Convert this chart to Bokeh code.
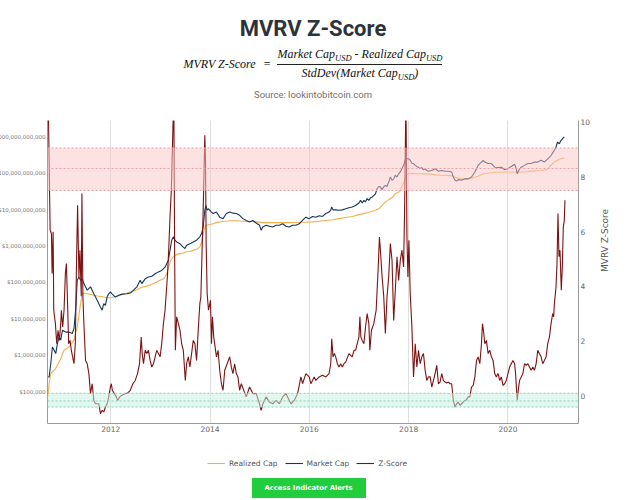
import math
from bokeh.plotting import figure
from bokeh.models import (Range1d, LogScale, LogAxis, FixedTicker, BoxAnnotation, Span,
                          Legend, LegendItem, Div, NumeralTickFormatter)
from bokeh.layouts import column
from bokeh.embed import file_html
from bokeh.resources import INLINE

# ---------------- data ----------------
# Market cap, log10 of USD
mc_year = [
    2010.73, 2010.76, 2010.793, 2010.826, 2010.86, 2010.893, 2010.926, 2010.96, 2010.993, 2011.027,
    2011.093, 2011.16, 2011.226, 2011.26, 2011.293, 2011.326, 2011.36, 2011.393, 2011.427, 2011.46,
    2011.527, 2011.593, 2011.66, 2011.727, 2011.793, 2011.827, 2011.86, 2011.893, 2011.927, 2011.96,
    2011.993, 2012.027, 2012.094, 2012.16, 2012.227, 2012.327, 2012.394, 2012.46, 2012.527, 2012.593,
    2012.627, 2012.694, 2012.76, 2012.827, 2012.894, 2012.961, 2013.027, 2013.094, 2013.161, 2013.194,
    2013.228, 2013.262, 2013.295, 2013.328, 2013.395, 2013.462, 2013.495, 2013.528, 2013.595, 2013.662,
    2013.729, 2013.795, 2013.829, 2013.862, 2013.895, 2013.915, 2013.942, 2013.962, 2013.995, 2014.029,
    2014.062, 2014.129, 2014.195, 2014.262, 2014.329, 2014.396, 2014.462, 2014.529, 2014.596, 2014.662,
    2014.729, 2014.796, 2014.862, 2014.929, 2014.996, 2015.029, 2015.062, 2015.129, 2015.195, 2015.262,
    2015.329, 2015.396, 2015.462, 2015.529, 2015.596, 2015.663, 2015.729, 2015.796, 2015.862, 2015.929,
    2015.997, 2016.064, 2016.131, 2016.197, 2016.264, 2016.331, 2016.397, 2016.431, 2016.451, 2016.477,
    2016.531, 2016.597, 2016.664, 2016.731, 2016.797, 2016.864, 2016.931, 2016.998, 2017.031, 2017.064,
    2017.098, 2017.131, 2017.164, 2017.198, 2017.231, 2017.264, 2017.331, 2017.364, 2017.398, 2017.431,
    2017.464, 2017.498, 2017.531, 2017.564, 2017.598, 2017.631, 2017.664, 2017.698, 2017.731, 2017.764,
    2017.798, 2017.831, 2017.864, 2017.898, 2017.931, 2017.964, 2017.998, 2018.031, 2018.064, 2018.098,
    2018.131, 2018.165, 2018.198, 2018.231, 2018.265, 2018.298, 2018.331, 2018.365, 2018.398, 2018.466,
    2018.532, 2018.599, 2018.666, 2018.732, 2018.799, 2018.866, 2018.899, 2018.933, 2018.966, 2018.999,
    2019.066, 2019.133, 2019.199, 2019.266, 2019.333, 2019.366, 2019.399, 2019.433, 2019.466, 2019.499,
    2019.533, 2019.599, 2019.666, 2019.733, 2019.80, 2019.866, 2019.933, 2019.999, 2020.066, 2020.133,
    2020.166, 2020.186, 2020.213, 2020.266, 2020.333, 2020.399, 2020.466, 2020.533, 2020.60, 2020.666,
    2020.733, 2020.80, 2020.866, 2020.933, 2020.966, 2020.999, 2021.033, 2021.066, 2021.099, 2021.133,
]
mc_log10 = [
    5.41, 5.41, 5.78, 6.23, 6.14, 6.05, 6.32, 6.51, 6.42, 6.69,
    6.64, 6.64, 6.60, 6.74, 7.24, 8.06, 8.15, 8.06, 8.10, 7.97,
    7.79, 7.88, 7.69, 7.51, 7.33, 7.24, 7.42, 7.37, 7.60, 7.69,
    7.74, 7.69, 7.60, 7.65, 7.68, 7.69, 7.71, 7.79, 7.88, 8.06,
    7.97, 8.10, 8.15, 8.17, 8.24, 8.29, 8.33, 8.42, 8.61, 8.88,
    9.16, 9.25, 9.16, 9.11, 9.06, 8.97, 8.93, 9.02, 9.06, 9.11,
    9.16, 9.25, 9.34, 9.52, 9.98, 10.11, 9.98, 10.02, 9.98, 9.93,
    9.89, 9.93, 9.79, 9.75, 9.89, 9.93, 9.90, 9.89, 9.84, 9.75,
    9.70, 9.66, 9.70, 9.63, 9.57, 9.43, 9.52, 9.57, 9.54, 9.52,
    9.57, 9.57, 9.61, 9.54, 9.52, 9.57, 9.57, 9.61, 9.70, 9.79,
    9.75, 9.81, 9.79, 9.83, 9.81, 9.89, 9.93, 9.98, 10.07, 9.99,
    9.99, 9.98, 9.99, 10.02, 10.05, 10.07, 10.11, 10.18, 10.25, 10.18,
    10.25, 10.21, 10.30, 10.25, 10.32, 10.34, 10.43, 10.57, 10.63, 10.62,
    10.54, 10.62, 10.66, 10.63, 10.75, 10.89, 10.80, 10.84, 10.94, 10.89,
    10.98, 11.03, 11.12, 11.21, 11.35, 11.39, 11.39, 11.35, 11.27, 11.26,
    11.21, 11.18, 11.16, 11.12, 11.15, 11.09, 11.12, 11.07, 11.05, 11.07,
    11.12, 11.05, 11.07, 11.05, 11.05, 11.03, 10.89, 10.80, 10.78, 10.82,
    10.80, 10.84, 10.84, 10.89, 11.03, 11.12, 11.21, 11.26, 11.30, 11.35,
    11.30, 11.26, 11.26, 11.16, 11.15, 11.16, 11.09, 11.12, 11.18, 11.24,
    11.12, 10.98, 11.07, 11.16, 11.21, 11.26, 11.26, 11.30, 11.30, 11.35,
    11.30, 11.39, 11.48, 11.62, 11.71, 11.85, 11.80, 11.89, 11.94, 11.99,
]

# Realized cap, log10 of USD
rc_year = [
    2010.733, 2010.76, 2010.793, 2010.893, 2010.993, 2011.06, 2011.16, 2011.26, 2011.326, 2011.393,
    2011.427, 2011.46, 2011.527, 2011.593, 2011.66, 2011.727, 2011.793, 2011.86, 2011.927, 2011.993,
    2012.06, 2012.127, 2012.193, 2012.26, 2012.327, 2012.394, 2012.46, 2012.527, 2012.593, 2012.66,
    2012.727, 2012.794, 2012.861, 2012.927, 2012.994, 2013.061, 2013.094, 2013.127, 2013.161, 2013.194,
    2013.228, 2013.261, 2013.328, 2013.395, 2013.462, 2013.528, 2013.595, 2013.662, 2013.729, 2013.795,
    2013.829, 2013.862, 2013.895, 2013.929, 2013.995, 2014.062, 2014.129, 2014.195, 2014.262, 2014.329,
    2014.396, 2014.529, 2014.662, 2014.796, 2014.929, 2015.062, 2015.329, 2015.596, 2015.862, 2016.064,
    2016.197, 2016.331, 2016.464, 2016.597, 2016.731, 2016.864, 2016.998, 2017.131, 2017.264, 2017.331,
    2017.398, 2017.464, 2017.531, 2017.598, 2017.664, 2017.731, 2017.798, 2017.831, 2017.864, 2017.898,
    2017.918, 2017.945, 2017.964, 2017.998, 2018.198, 2018.465, 2018.532, 2018.666, 2018.799, 2018.866,
    2018.933, 2018.999, 2019.066, 2019.199, 2019.266, 2019.333, 2019.399, 2019.466, 2019.599, 2019.733,
    2019.999, 2020.20, 2020.399, 2020.533, 2020.666, 2020.766, 2020.80, 2020.866, 2020.933, 2020.999,
    2021.066, 2021.133,
]
rc_log10 = [
    4.86, 5.23, 5.50, 5.64, 5.91, 6.14, 6.23, 6.42, 6.78, 7.42,
    7.69, 7.71, 7.69, 7.67, 7.65, 7.63, 7.62, 7.60, 7.58, 7.58,
    7.60, 7.62, 7.65, 7.68, 7.71, 7.74, 7.77, 7.80, 7.85, 7.88,
    7.90, 7.93, 7.97, 8.01, 8.06, 8.10, 8.15, 8.24, 8.38, 8.56,
    8.65, 8.70, 8.77, 8.79, 8.81, 8.84, 8.85, 8.88, 8.91, 8.97,
    9.11, 9.34, 9.52, 9.57, 9.59, 9.61, 9.64, 9.66, 9.68, 9.68,
    9.69, 9.69, 9.68, 9.68, 9.66, 9.64, 9.64, 9.64, 9.65, 9.66,
    9.68, 9.70, 9.72, 9.75, 9.78, 9.81, 9.86, 9.90, 9.95, 9.98,
    10.02, 10.11, 10.21, 10.27, 10.32, 10.43, 10.48, 10.54, 10.63, 10.73,
    10.80, 10.91, 10.96, 10.98, 10.98, 10.97, 10.95, 10.94, 10.93, 10.93,
    10.89, 10.86, 10.84, 10.84, 10.86, 10.89, 10.91, 10.96, 11.00, 11.02,
    11.03, 11.02, 11.04, 11.06, 11.07, 11.09, 11.12, 11.21, 11.30, 11.35,
    11.39, 11.41,
]

# MVRV Z-Score
z_year = [
    2010.74, 2010.78, 2010.806, 2010.82, 2010.84, 2010.853, 2010.886, 2010.913, 2010.94, 2010.967,
    2010.993, 2011.007, 2011.033, 2011.06, 2011.087, 2011.107, 2011.127, 2011.153, 2011.18, 2011.207,
    2011.233, 2011.26, 2011.287, 2011.313, 2011.333, 2011.36, 2011.38, 2011.407, 2011.42, 2011.44,
    2011.46, 2011.493, 2011.527, 2011.56, 2011.593, 2011.627, 2011.66, 2011.693, 2011.76, 2011.793,
    2011.827, 2011.86, 2011.893, 2011.927, 2011.96, 2011.993, 2012.013, 2012.033, 2012.073, 2012.113,
    2012.14, 2012.18, 2012.227, 2012.294, 2012.34, 2012.394, 2012.447, 2012.494, 2012.54, 2012.58,
    2012.614, 2012.634, 2012.66, 2012.694, 2012.727, 2012.76, 2012.794, 2012.827, 2012.861, 2012.894,
    2012.927, 2012.961, 2012.994, 2013.027, 2013.061, 2013.094, 2013.114, 2013.141, 2013.168, 2013.194,
    2013.221, 2013.241, 2013.27, 2013.288, 2013.302, 2013.328, 2013.362, 2013.395, 2013.428, 2013.462,
    2013.502, 2013.528, 2013.562, 2013.595, 2013.662, 2013.695, 2013.729, 2013.762, 2013.795, 2013.815,
    2013.835, 2013.862, 2013.895, 2013.909, 2013.922, 2013.942, 2013.969, 2014.009, 2014.029, 2014.049,
    2014.075, 2014.129, 2014.162, 2014.195, 2014.229, 2014.262, 2014.296, 2014.396, 2014.429, 2014.462,
    2014.496, 2014.529, 2014.562, 2014.596, 2014.629, 2014.729, 2014.796, 2014.863, 2014.929, 2014.996,
    2015.029, 2015.063, 2015.129, 2015.196, 2015.263, 2015.329, 2015.396, 2015.463, 2015.529, 2015.596,
    2015.63, 2015.696, 2015.763, 2015.83, 2015.863, 2015.93, 2015.997, 2016.03, 2016.064, 2016.097,
    2016.131, 2016.197, 2016.264, 2016.331, 2016.397, 2016.431, 2016.451, 2016.477, 2016.504, 2016.531,
    2016.564, 2016.597, 2016.631, 2016.664, 2016.697, 2016.731, 2016.797, 2016.864, 2016.898, 2016.931,
    2016.964, 2016.998, 2017.018, 2017.038, 2017.064, 2017.098, 2017.131, 2017.164, 2017.198, 2017.218,
    2017.251, 2017.298, 2017.345, 2017.384, 2017.411, 2017.431, 2017.465, 2017.498, 2017.531, 2017.565,
    2017.598, 2017.631, 2017.665, 2017.698, 2017.731, 2017.765, 2017.798, 2017.831, 2017.865, 2017.898,
    2017.918, 2017.945, 2017.965, 2017.985, 2018.005, 2018.031, 2018.065, 2018.098, 2018.132, 2018.165,
    2018.198, 2018.232, 2018.265, 2018.298, 2018.332, 2018.365, 2018.398, 2018.432, 2018.466, 2018.499,
    2018.532, 2018.566, 2018.599, 2018.632, 2018.666, 2018.699, 2018.732, 2018.766, 2018.799, 2018.832,
    2018.866, 2018.899, 2018.933, 2018.966, 2018.999, 2019.033, 2019.066, 2019.099, 2019.133, 2019.166,
    2019.199, 2019.233, 2019.266, 2019.299, 2019.333, 2019.366, 2019.399, 2019.433, 2019.466, 2019.486,
    2019.506, 2019.533, 2019.566, 2019.60, 2019.633, 2019.666, 2019.70, 2019.733, 2019.766, 2019.80,
    2019.833, 2019.866, 2019.90, 2019.933, 2019.966, 2020.0, 2020.033, 2020.066, 2020.10, 2020.133,
    2020.153, 2020.173, 2020.187, 2020.207, 2020.233, 2020.267, 2020.30, 2020.333, 2020.367, 2020.40,
    2020.433, 2020.467, 2020.50, 2020.533, 2020.567, 2020.60, 2020.633, 2020.667, 2020.70, 2020.733,
    2020.767, 2020.80, 2020.834, 2020.867, 2020.90, 2020.92, 2020.934, 2020.967, 2020.987, 2021.007,
    2021.027, 2021.047, 2021.074, 2021.094, 2021.114, 2021.134, 2021.147,
]
z_score = [
    11.0, 6.05, 5.93, 4.47, 5.99, 3.13, 2.64, 1.91, 2.40, 2.03,
    2.64, 3.13, 2.52, 3.13, 4.47, 4.83, 3.64, 1.91, 2.03, 1.67,
    1.43, 1.18, 1.91, 5.08, 6.96, 4.34, 5.32, 3.64, 7.39, 3.64,
    2.64, 1.30, 1.18, 0.82, 0.09, 0.45, -0.16, -0.28, -0.28, -0.64,
    -0.52, -0.58, -0.40, -0.28, -0.03, 0.33, 0.45, 0.21, 0.09, -0.03,
    -0.16, -0.03, 0.03, 0.09, 0.11, 0.21, 0.45, 0.57, 0.82, 1.18,
    2.15, 1.55, 1.18, 1.67, 1.55, 1.67, 1.30, 1.06, 1.18, 1.43,
    1.67, 1.55, 1.43, 1.91, 2.64, 3.13, 3.64, 4.34, 5.32, 6.54,
    7.51, 8.97, 11.0, 5.00, 1.67, 2.89, 2.64, 2.40, 1.91, 1.67,
    0.57, 1.18, 1.43, 1.06, 2.03, 1.91, 1.30, 2.40, 3.37, 3.61,
    4.95, 6.78, 9.51, 8.60, 5.56, 3.74, 3.13, 3.49, 1.91, 2.89,
    2.15, 1.43, 1.67, 0.94, 0.45, 0.21, 0.94, 1.43, 1.06, 0.82,
    1.18, 0.82, 0.70, 0.21, 0.45, -0.03, 0.33, 0.09, 0.09, -0.28,
    -0.52, -0.28, -0.03, -0.22, -0.28, -0.16, -0.28, -0.03, 0.09, -0.16,
    -0.28, -0.16, 0.09, 0.70, 0.45, 0.82, 0.70, 0.45, 0.57, 0.70,
    0.57, 0.70, 0.76, 0.70, 0.82, 1.18, 2.09, 1.43, 1.55, 1.43,
    1.18, 1.06, 1.18, 1.06, 1.18, 1.24, 1.55, 1.43, 1.67, 1.67,
    1.91, 2.15, 2.89, 2.15, 2.03, 1.91, 2.52, 3.01, 2.64, 1.67,
    2.40, 2.64, 3.13, 4.59, 5.80, 5.32, 4.34, 3.64, 2.28, 3.64,
    4.34, 5.56, 4.95, 2.76, 3.86, 5.08, 4.22, 4.95, 5.32, 4.71,
    6.78, 11.0, 5.80, 4.34, 5.68, 3.74, 2.52, 0.70, 1.91, 1.06,
    1.67, 1.18, 1.43, 1.55, 0.94, 0.57, 0.70, 0.70, 0.33, 0.57,
    0.82, 1.12, 0.45, 0.51, 0.82, 0.57, 0.51, 0.48, 0.51, 0.45,
    0.45, -0.16, -0.40, -0.28, -0.22, -0.34, -0.28, -0.22, -0.16, -0.13,
    -0.03, -0.03, 0.33, 0.39, 0.70, 1.30, 1.43, 1.18, 1.91, 2.64,
    2.40, 1.91, 2.03, 1.55, 1.67, 1.43, 1.30, 0.82, 0.70, 0.82,
    0.57, 0.70, 0.39, 0.45, 0.57, 0.82, 1.06, 1.18, 1.30, 1.18,
    0.82, 0.21, -0.16, 0.21, 0.57, 0.70, 0.82, 1.18, 1.12, 1.18,
    1.06, 0.94, 1.06, 0.94, 1.18, 1.67, 1.55, 1.43, 1.18, 1.30,
    1.43, 1.91, 2.15, 2.64, 3.01, 2.89, 3.37, 3.98, 4.83, 6.66,
    5.08, 5.32, 3.86, 4.71, 6.17, 6.41, 7.14,
]

cap_ticks = [1e5, 1e6, 1e7, 1e8, 1e9, 1e10, 1e11, 1e12]
z_ticks = [0, 2, 4, 6, 8, 10]
year_ticks = [2012, 2014, 2016, 2018, 2020]
red_band = [7.5, 8.3, 9.05]      # bottom, middle, top (Z-score units)
green_band = [-0.4, -0.18, 0.1]  # bottom, middle, top (Z-score units)
series_names = ["Realized Cap", "Market Cap", "Z-Score"]

# ---------------- styling ----------------
C_REAL = "#f0b04c"
C_MKT = "#15365c"
C_Z = "#7d1212"
AXIS_GRAY = "#9a9a9a"
TICK_FONT = "DejaVu Sans"
LW = 1.1

# ---------------- header (title, formula, source) ----------------
SUB = 'style="font-size:8.5px;line-height:0;vertical-align:-2.5px;"'
header_html = f"""
<div style="position:relative;width:626px;height:108px;">
  <div style="position:absolute;left:0;top:18px;width:626px;text-align:center;font-family:Roboto,sans-serif;font-weight:bold;font-size:22px;line-height:22px;color:#2d333a;">MVRV Z-Score</div>
  <div style="position:absolute;left:0;top:47px;width:626px;display:flex;justify-content:center;align-items:center;font-family:'Liberation Serif',serif;font-size:12px;line-height:14px;color:#111;">
    <span style="font-style:italic;">MVRV Z-Score</span>
    <span style="margin:0 7px 0 8px;">=</span>
    <span style="display:flex;flex-direction:column;text-align:center;font-style:italic;">
      <span style="display:block;padding-bottom:3px;border-bottom:1px solid #222;">Market Cap<sub {SUB}>USD</sub> - Realized Cap<sub {SUB}>USD</sub></span>
      <span style="display:block;padding-top:1px;">StdDev(Market Cap<sub {SUB}>USD</sub>)</span>
    </span>
  </div>
  <div style="position:absolute;left:0;top:90px;width:626px;text-align:center;font-family:Roboto,sans-serif;font-size:9.5px;line-height:9.5px;color:#707070;">Source: lookintobitcoin.com</div>
</div>
"""
header = Div(text=header_html, width=626, height=108, margin=0)

# ---------------- main chart ----------------
# The left border is wider than the page allows; the figure is shifted left visually
# so that the long dollar labels run off the page edge, as in the reference.
p = figure(width=641, height=332, output_backend="svg", toolbar_location=None,
           x_range=Range1d(2010.727, 2021.42), y_range=Range1d(-1.0, 10.05),
           y_axis_location="right",
           min_border_left=70, min_border_right=37, min_border_top=12, min_border_bottom=17,
           margin=0, styles={"transform": "translateX(-23px)"})
p.extra_y_ranges = {"cap": Range1d(10 ** 4.134, 10 ** 12.44)}
p.extra_y_scales = {"cap": LogScale()}
p.outline_line_color = None
p.background_fill_color = "white"
p.border_fill_color = None
p.ygrid.visible = False
p.xgrid.grid_line_color = "#dedede"
p.xgrid.grid_line_width = 1

xa = p.xaxis[0]
xa.ticker = FixedTicker(ticks=year_ticks)
xa.axis_line_color = AXIS_GRAY
xa.major_tick_out = 0
xa.major_tick_in = 0
xa.minor_tick_out = 0
xa.minor_tick_in = 0
xa.major_label_standoff = 2
xa.major_label_text_font = TICK_FONT
xa.major_label_text_font_size = "7.5px"
xa.major_label_text_color = "#666666"

za = p.yaxis[0]
za.ticker = FixedTicker(ticks=z_ticks)
za.axis_line_color = AXIS_GRAY
za.major_tick_out = 0
za.major_tick_in = 0
za.minor_tick_out = 0
za.minor_tick_in = 0
za.major_label_standoff = 2
za.major_label_text_font = TICK_FONT
za.major_label_text_font_size = "7.5px"
za.major_label_text_color = "#666666"
za.axis_label = "MVRV Z-Score"
za.axis_label_orientation = math.pi / 2   # read bottom-to-top
za.axis_label_standoff = 12
za.axis_label_text_font = TICK_FONT
za.axis_label_text_font_size = "9px"
za.axis_label_text_font_style = "normal"
za.axis_label_text_color = "#555555"

la = LogAxis(y_range_name="cap", ticker=FixedTicker(ticks=cap_ticks),
             formatter=NumeralTickFormatter(format="$0,0"),
             axis_line_color=AXIS_GRAY, major_tick_out=0, major_tick_in=0,
             minor_tick_out=0, minor_tick_in=0, major_label_standoff=2,
             major_label_text_font=TICK_FONT, major_label_text_font_size="5.5px",
             major_label_text_color="#777777")
p.add_layout(la, "left")

# series
r_real = p.line(rc_year, [10 ** v for v in rc_log10], y_range_name="cap",
                line_color=C_REAL, line_width=LW)
r_mkt = p.line(mc_year, [10 ** v for v in mc_log10], y_range_name="cap",
               line_color=C_MKT, line_width=LW)
r_z = p.line(z_year, z_score, line_color=C_Z, line_width=LW)

# bands (drawn over the lines, semi-transparent)
p.add_layout(BoxAnnotation(bottom=red_band[0], top=red_band[2], fill_color="#fbc5c5",
                           fill_alpha=0.5, line_color=None))
for v in red_band:
    p.add_layout(Span(location=v, dimension="width", line_color="#eba0a6",
                      line_dash="2 2", line_width=1))
p.add_layout(BoxAnnotation(bottom=green_band[0], top=green_band[2], fill_color="#c3f1e1",
                           fill_alpha=0.5, line_color=None))
for v in green_band:
    p.add_layout(Span(location=v, dimension="width", line_color="#86d2b4",
                      line_dash="2 2", line_width=1))

# ---------------- legend strip (own small canvas under the chart) ----------------
# its key glyphs reuse the series styles; their points lie outside this strip's ranges.
# (the column aligns this strip's frame with the main chart's frame, 70px in)
lg = figure(width=622, height=28, output_backend="svg", toolbar_location=None,
            x_range=Range1d(0, 1), y_range=Range1d(0, 1),
            x_axis_location=None, y_axis_location=None,
            min_border=0, margin=(9, 0, 0, 0))
lg.outline_line_color = None
lg.xgrid.visible = False
lg.ygrid.visible = False
g_real = lg.line(rc_year[:2], rc_log10[:2], line_color=C_REAL, line_width=LW)
g_mkt = lg.line(mc_year[:2], mc_log10[:2], line_color=C_MKT, line_width=LW)
g_z = lg.line(z_year[:2], z_score[:2], line_color=C_Z, line_width=LW)
legend = Legend(items=[LegendItem(label=series_names[0], renderers=[g_real]),
                       LegendItem(label=series_names[1], renderers=[g_mkt]),
                       LegendItem(label=series_names[2], renderers=[g_z])],
                location=(137, 9), orientation="horizontal",
                border_line_color=None, background_fill_alpha=0,
                padding=0, margin=0, spacing=7, label_standoff=4,
                glyph_width=18, glyph_height=10, label_height=10,
                label_text_font=TICK_FONT, label_text_font_size="7.5px",
                label_text_color="#555555")
lg.add_layout(legend)

# ---------------- call-to-action button ----------------
button_html = """
<div style="width:617px;height:20px;display:flex;justify-content:center;">
  <div style="width:114px;height:20px;background:#21cc3d;color:#ffffff;font-family:'DejaVu Sans',sans-serif;font-weight:bold;font-size:6.8px;line-height:20px;text-align:center;">Access Indicator Alerts</div>
</div>
"""
button = Div(text=button_html, width=617, height=20, margin=(1, 0, 0, 0))

layout = column(header, p, lg, button, spacing=0, margin=0)
open("out.html", "w").write(file_html(layout, INLINE, title="MVRV Z-Score"))
